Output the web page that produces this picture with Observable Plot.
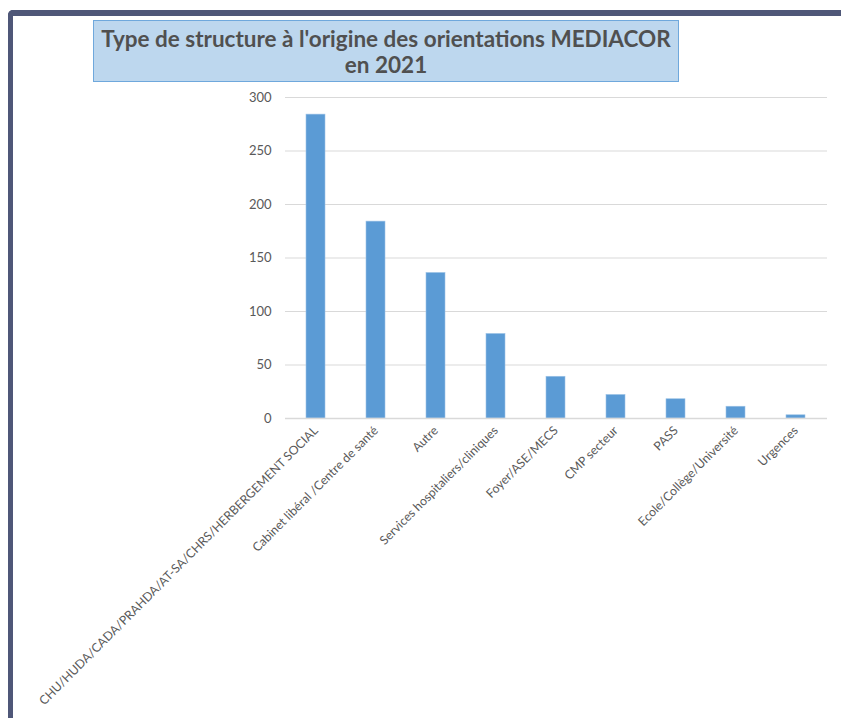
<!DOCTYPE html>
<html>
<head>
<meta charset="utf-8">
<script src="https://cdn.jsdelivr.net/npm/d3@7"></script>
<script src="https://cdn.jsdelivr.net/npm/@observablehq/plot@0.6"></script>
<style>
  html, body { margin: 0; padding: 0; background: #fff; }
  body { width: 841px; height: 718px; position: relative; overflow: hidden; font-family: Lato, "Open Sans", sans-serif; }
  #frame { position: absolute; left: 8px; top: 10px; width: 900px; height: 800px;
    border-top: 6px solid #4f5778; border-left: 5px solid #4f5778; border-top-left-radius: 5px; box-sizing: border-box; }
  #title { position: absolute; left: 93px; top: 20px; width: 586px; height: 62px; box-sizing: border-box;
    background: #bdd7ee; border: 1px solid #6fa8dc; color: #505050; font-weight: bold; font-size: 22.5px;
    line-height: 26px; text-align: center; padding-top: 5px; white-space: nowrap; }
  #chart { position: absolute; left: 0; top: 85px; }
</style>
</head>
<body>
<div id="frame"></div>
<div id="title">Type de structure à l'origine des orientations MEDIACOR<br>en 2021</div>
<div id="chart"></div>
<script>
const categories = [
  "CHU/HUDA/CADA/PRAHDA/AT-SA/CHRS/HERBERGEMENT SOCIAL",
  "Cabinet libéral /Centre de santé",
  "Autre",
  "Services hospitaliers/cliniques",
  "Foyer/ASE/MECS",
  "CMP secteur",
  "PASS",
  "Ecole/Collège/Université",
  "Urgences"
];
const values = [284, 184, 136, 79, 39, 22, 18, 11, 3];
const yTicks = [0, 50, 100, 150, 200, 250, 300];

const data = categories.map((c, i) => ({category: c, value: values[i]}));

const chart = Plot.plot({
  width: 841,
  height: 633,
  marginLeft: 285,
  marginRight: 14,
  marginTop: 12,
  marginBottom: 300,
  style: {fontFamily: "Lato, 'Open Sans', sans-serif", color: "#595959", background: "transparent"},
  x: {domain: categories, paddingInner: 0.68, paddingOuter: 0.34, label: null},
  y: {domain: [0, 300], label: null},
  marks: [
    Plot.gridY(yTicks, {stroke: "#d9d9d9", strokeOpacity: 1, strokeWidth: 1}),
    Plot.barY(data, {x: "category", y: "value", fill: "#5b9bd5", stroke: "#9dc3e6", strokeWidth: 0.6}),
    Plot.ruleY([0], {stroke: "#d9d9d9", strokeWidth: 1.5}),
    Plot.axisY(yTicks, {tickSize: 0, tickPadding: 14, fontSize: 13, fill: "#595959", label: null}),
    Plot.axisX({tickSize: 0, tickPadding: 10, tickRotate: -45, fontSize: 12.3, fill: "#595959", label: null})
  ]
});
document.getElementById("chart").appendChild(chart);
</script>
</body>
</html>
